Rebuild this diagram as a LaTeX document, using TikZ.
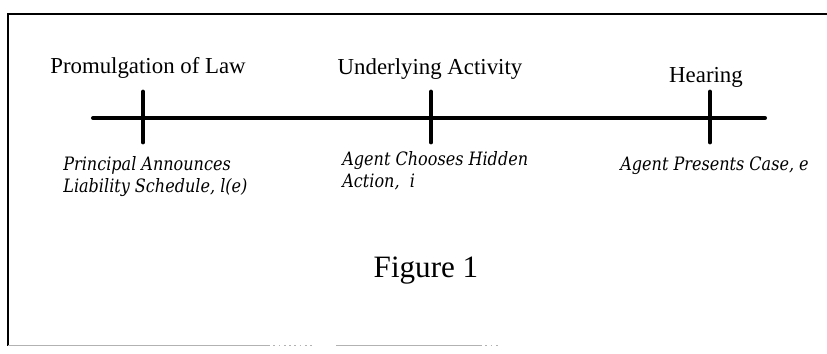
\documentclass[tikz,border=0pt]{standalone}
\usepackage{fontspec}
\setmainfont{Liberation Serif}
\newfontfamily\notefont[FakeStretch=0.87]{DejaVu Serif}
\usetikzlibrary{positioning}

\begin{document}
\begin{tikzpicture}[
    x=0.02cm, y=-0.02cm,
    event/.style={font=\fontsize{13}{15}\selectfont, anchor=base, inner sep=0pt},
    note/.style={font=\notefont\itshape\fontsize{10.5}{12.6}\selectfont, align=left, anchor=north west, inner sep=0pt},
    axis/.style={line width=2.3pt, line cap=round},
    tickmark/.style={line width=2.8pt, line cap=round},
]
    \useasboundingbox (0,0) rectangle (827,353);
    % frame
    \draw[line width=1.6pt] (827,14) -- (8,14) -- (8,346);
    \draw[gray!60, line width=1pt] (8,345.5) -- (268,345.5) (336,345.5) -- (480,345.5);
    \draw[gray!60, line width=1pt, dotted] (268,345.5) -- (315,345.5) (480,345.5) -- (498,345.5);

    % time line
    \coordinate (start) at (93,118);
    \coordinate (end) at (765,118);
    \coordinate (lawtop) at (143,92);
    \coordinate (lawbot) at (143,142);
    \coordinate (acttop) at (431,92);
    \coordinate (actbot) at (431,142);
    \coordinate (heartop) at (710,92);
    \coordinate (hearbot) at (710,142);

    \draw[axis] (start) -- (end);
    \draw[tickmark] (lawtop) -- (lawbot);
    \draw[tickmark] (acttop) -- (actbot);
    \draw[tickmark] (heartop) -- (hearbot);

    \node[event] (law) at (148,73) {Promulgation of Law};
    \node[event] (act) at (430,74) {Underlying Activity};
    \node[event] (hear) at (706,82) {Hearing};

    \node[note] (announce) at (63,156) {Principal Announces\\Liability Schedule, l(e)};
    \node[note] (choose) at (342,151) {Agent Chooses Hidden\\Action,\ \ i};
    \node[note] (present) at (620,156) {Agent Presents Case, e};

    \node[font=\fontsize{17.7}{20}\selectfont, anchor=base, inner sep=0pt] (fig) at (426,277) {Figure 1};
\end{tikzpicture}
\end{document}
